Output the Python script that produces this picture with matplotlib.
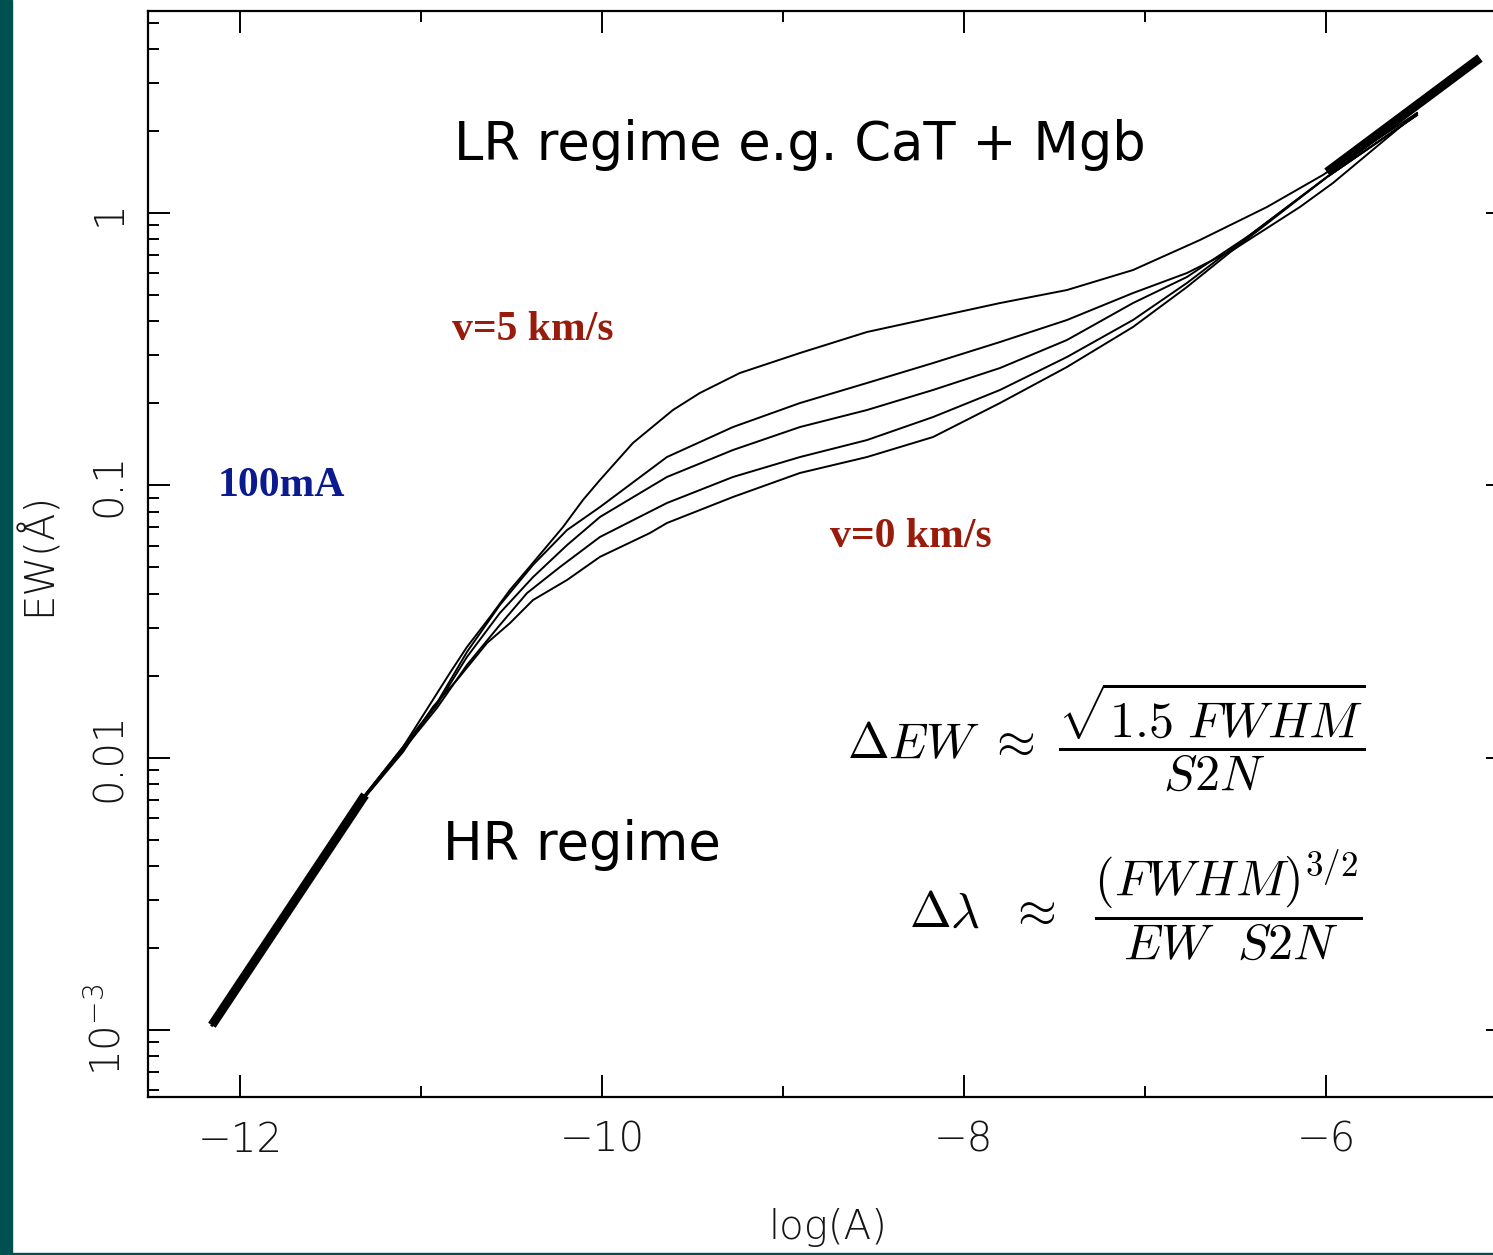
import matplotlib
matplotlib.use("Agg")
import matplotlib.pyplot as plt
from matplotlib.patches import Rectangle
from matplotlib.ticker import FixedLocator, MultipleLocator, NullFormatter, LogLocator

# curves of growth, log(A) vs EW (Angstrom)
# v = 5 km/s (top) ... v = 0 km/s (bottom)
x_v5 = [-12.155, -11.309, -11.099, -10.934, -10.840, -10.746, -10.619, -10.508, -10.414,
        -10.215, -10.105, -10.011, -9.829, -9.608, -9.459, -9.238, -8.906, -8.536,
        -7.801, -7.431, -7.066, -6.696, -6.326, -6.017, -5.497]
ew_v5 = [0.00104, 0.00729, 0.01094, 0.0163, 0.02046, 0.02547, 0.0328, 0.0413, 0.0489,
         0.0703, 0.0883, 0.1046, 0.1430, 0.1890, 0.2183, 0.2585, 0.3061, 0.3656,
         0.4670, 0.5214, 0.6175, 0.7960, 1.052, 1.379, 2.329]

x_c2 = [-12.155, -11.309, -11.099, -10.912, -10.746, -10.564, -10.381, -10.193, -10.011,
        -9.641, -9.276, -8.906, -8.536, -8.171, -7.801, -7.431, -7.066, -6.768,
        -6.514, -6.144, -5.961, -5.497]
ew_c2 = [0.00104, 0.00729, 0.01094, 0.01586, 0.02442, 0.03634, 0.0510, 0.0685, 0.0832,
         0.1270, 0.1637, 0.2005, 0.2375, 0.2812, 0.3359, 0.4046, 0.5083, 0.6021,
         0.7313, 1.052, 1.289, 2.329]

x_c3 = [-12.155, -11.309, -11.099, -10.912, -10.746, -10.564, -10.381, -10.193, -10.011,
        -9.641, -9.276, -8.906, -8.536, -8.171, -7.801, -7.431, -7.066, -6.768,
        -6.420, -5.994, -5.497]
ew_c3 = [0.00104, 0.00729, 0.01084, 0.0156, 0.02341, 0.03396, 0.0460, 0.0603, 0.0765,
         0.1073, 0.1348, 0.1637, 0.1890, 0.2239, 0.2696, 0.3416, 0.4670, 0.5821,
         0.830, 1.356, 2.290]

x_c4 = [-12.155, -11.309, -11.099, -10.912, -10.746, -10.564, -10.414, -10.232, -10.011,
        -9.641, -9.276, -8.906, -8.536, -8.171, -7.801, -7.431, -7.066, -6.768,
        -6.420, -5.994, -5.497]
ew_c4 = [0.00104, 0.00716, 0.01067, 0.0152, 0.02188, 0.03069, 0.0402, 0.0501, 0.0646,
         0.0861, 0.1073, 0.1270, 0.1466, 0.1781, 0.2239, 0.2959, 0.4046, 0.5533,
         0.830, 1.356, 2.290]

x_v0 = [-12.155, -11.309, -11.099, -10.934, -10.801, -10.635, -10.508, -10.381, -10.193,
        -10.011, -9.735, -9.641, -9.276, -8.906, -8.536, -8.171, -7.801, -7.431,
        -7.066, -6.768, -6.514, -5.994, -5.497]
ew_v0 = [0.00104, 0.00716, 0.01049, 0.01535, 0.01928, 0.02636, 0.03119, 0.0379, 0.0449,
         0.0546, 0.0668, 0.0727, 0.0906, 0.1110, 0.1270, 0.1504, 0.2005, 0.2719,
         0.3814, 0.5348, 0.7313, 1.356, 2.290]

# the two thick asymptotes (linear / square-root regime)
x_lin = [-12.155, -11.309]
ew_lin = [0.00104, 0.00729]
x_sqrt = [-5.994, -5.149]
ew_sqrt = [1.414, 3.709]

curves = [(x_v5, ew_v5), (x_c2, ew_c2), (x_c3, ew_c3), (x_c4, ew_c4), (x_v0, ew_v0)]

x_major = [-12, -10, -8, -6]
x_major_labels = ["\u221212", "\u221210", "\u22128", "\u22126"]
y_major = [1e-3, 1e-2, 0.1, 1]
y_major_labels = ["$10^{-3}$", "0.01", "0.1", "1"]

# thin mathtext (custom fontset) for the 10^-3 tick label only
plt.rcParams["mathtext.rm"] = "DejaVu Sans:light"
plt.rcParams["mathtext.it"] = "DejaVu Sans:light"

W, H = 1493, 1255
fig = plt.figure(figsize=(W / 100, H / 100), dpi=100)
fig.patch.set_facecolor("white")

# slide decoration: teal band on the left and a thin line at the bottom
teal = "#00504f"
fig.patches.append(Rectangle((0, 0), 12 / W, 1, transform=fig.transFigure, color=teal, zorder=0))
fig.patches.append(Rectangle((0, 0), 1, 2.5 / H, transform=fig.transFigure, color=teal, zorder=0))

ax = fig.add_axes([148 / W, 1 - 1097 / H, 1360 / W, 1086 / H])
ax.set_yscale("log")

for xs, ews in curves:
    ax.plot(xs, ews, color="black", lw=1.4, solid_joinstyle="round")
ax.plot(x_lin, ew_lin, color="black", lw=6.5, solid_capstyle="butt")
ax.plot(x_sqrt, ew_sqrt, color="black", lw=6.5, solid_capstyle="butt")

ax.set_xlim(-12.508, -4.994)
ax.set_ylim(5.67e-4, 5.52)

tick_font = {"family": "DejaVu Sans", "weight": "light", "size": 29, "color": "#151515"}
ax.xaxis.set_major_locator(FixedLocator(x_major))
ax.xaxis.set_minor_locator(MultipleLocator(1))
ax.set_xticklabels(x_major_labels, fontdict=tick_font)
ax.yaxis.set_major_locator(FixedLocator(y_major))
ax.yaxis.set_minor_locator(LogLocator(base=10, subs=range(2, 10)))
ax.yaxis.set_minor_formatter(NullFormatter())
ax.set_yticklabels(y_major_labels, fontdict=tick_font, rotation=90, va="center")
for lab in ax.get_yticklabels():
    lab.set_math_fontfamily("custom")

ax.tick_params(which="major", direction="in", length=16, width=1.4, top=True, right=True, pad=17)
ax.tick_params(which="minor", direction="in", length=8, width=1.4, top=True, right=True)
ax.tick_params(axis="y", which="major", pad=14)
for s in ax.spines.values():
    s.set_linewidth(1.6)

ax.set_xlabel("log(A)", fontdict=tick_font)
ax.xaxis.set_label_coords(0.5, -0.102)
ax.set_ylabel("EW(\u00c5)", fontdict=tick_font)
ax.yaxis.set_label_coords(-0.066, 0.5)

# annotations
big = {"family": "DejaVu Sans", "size": 38, "color": "black"}
fig.text(800 / W, 1 - 145 / H, "LR regime e.g. CaT + Mgb", ha="center", va="center", fontdict=big)
fig.text(443 / W, 1 - 845 / H, "HR regime", ha="left", va="center", fontdict=big)

red = "#981b0b"
blue = "#0b1a8f"
serif = {"family": "Liberation Serif", "weight": "bold", "size": 30}
fig.text(452 / W, 1 - 330 / H, "v=5 km/s", ha="left", va="center", color=red, fontdict=serif)
fig.text(830 / W, 1 - 537 / H, "v=0 km/s", ha="left", va="center", color=red, fontdict=serif)
fig.text(218 / W, 1 - 486 / H, "100mA", ha="left", va="center", color=blue, fontdict=serif)

fig.text(1365 / W, 1 - 737 / H,
         r"$\Delta EW\ \approx\ \dfrac{\sqrt{1.5\ FWHM}}{S2N}$",
         ha="right", va="center", fontsize=36, math_fontfamily="cm")
fig.text(1363 / W, 1 - 905 / H,
         r"$\Delta\lambda\ \ \approx\ \ \dfrac{(FWHM)^{3/2}}{EW\ \ S2N}$",
         ha="right", va="center", fontsize=36, math_fontfamily="cm")

fig.savefig("out.png", dpi=100)
